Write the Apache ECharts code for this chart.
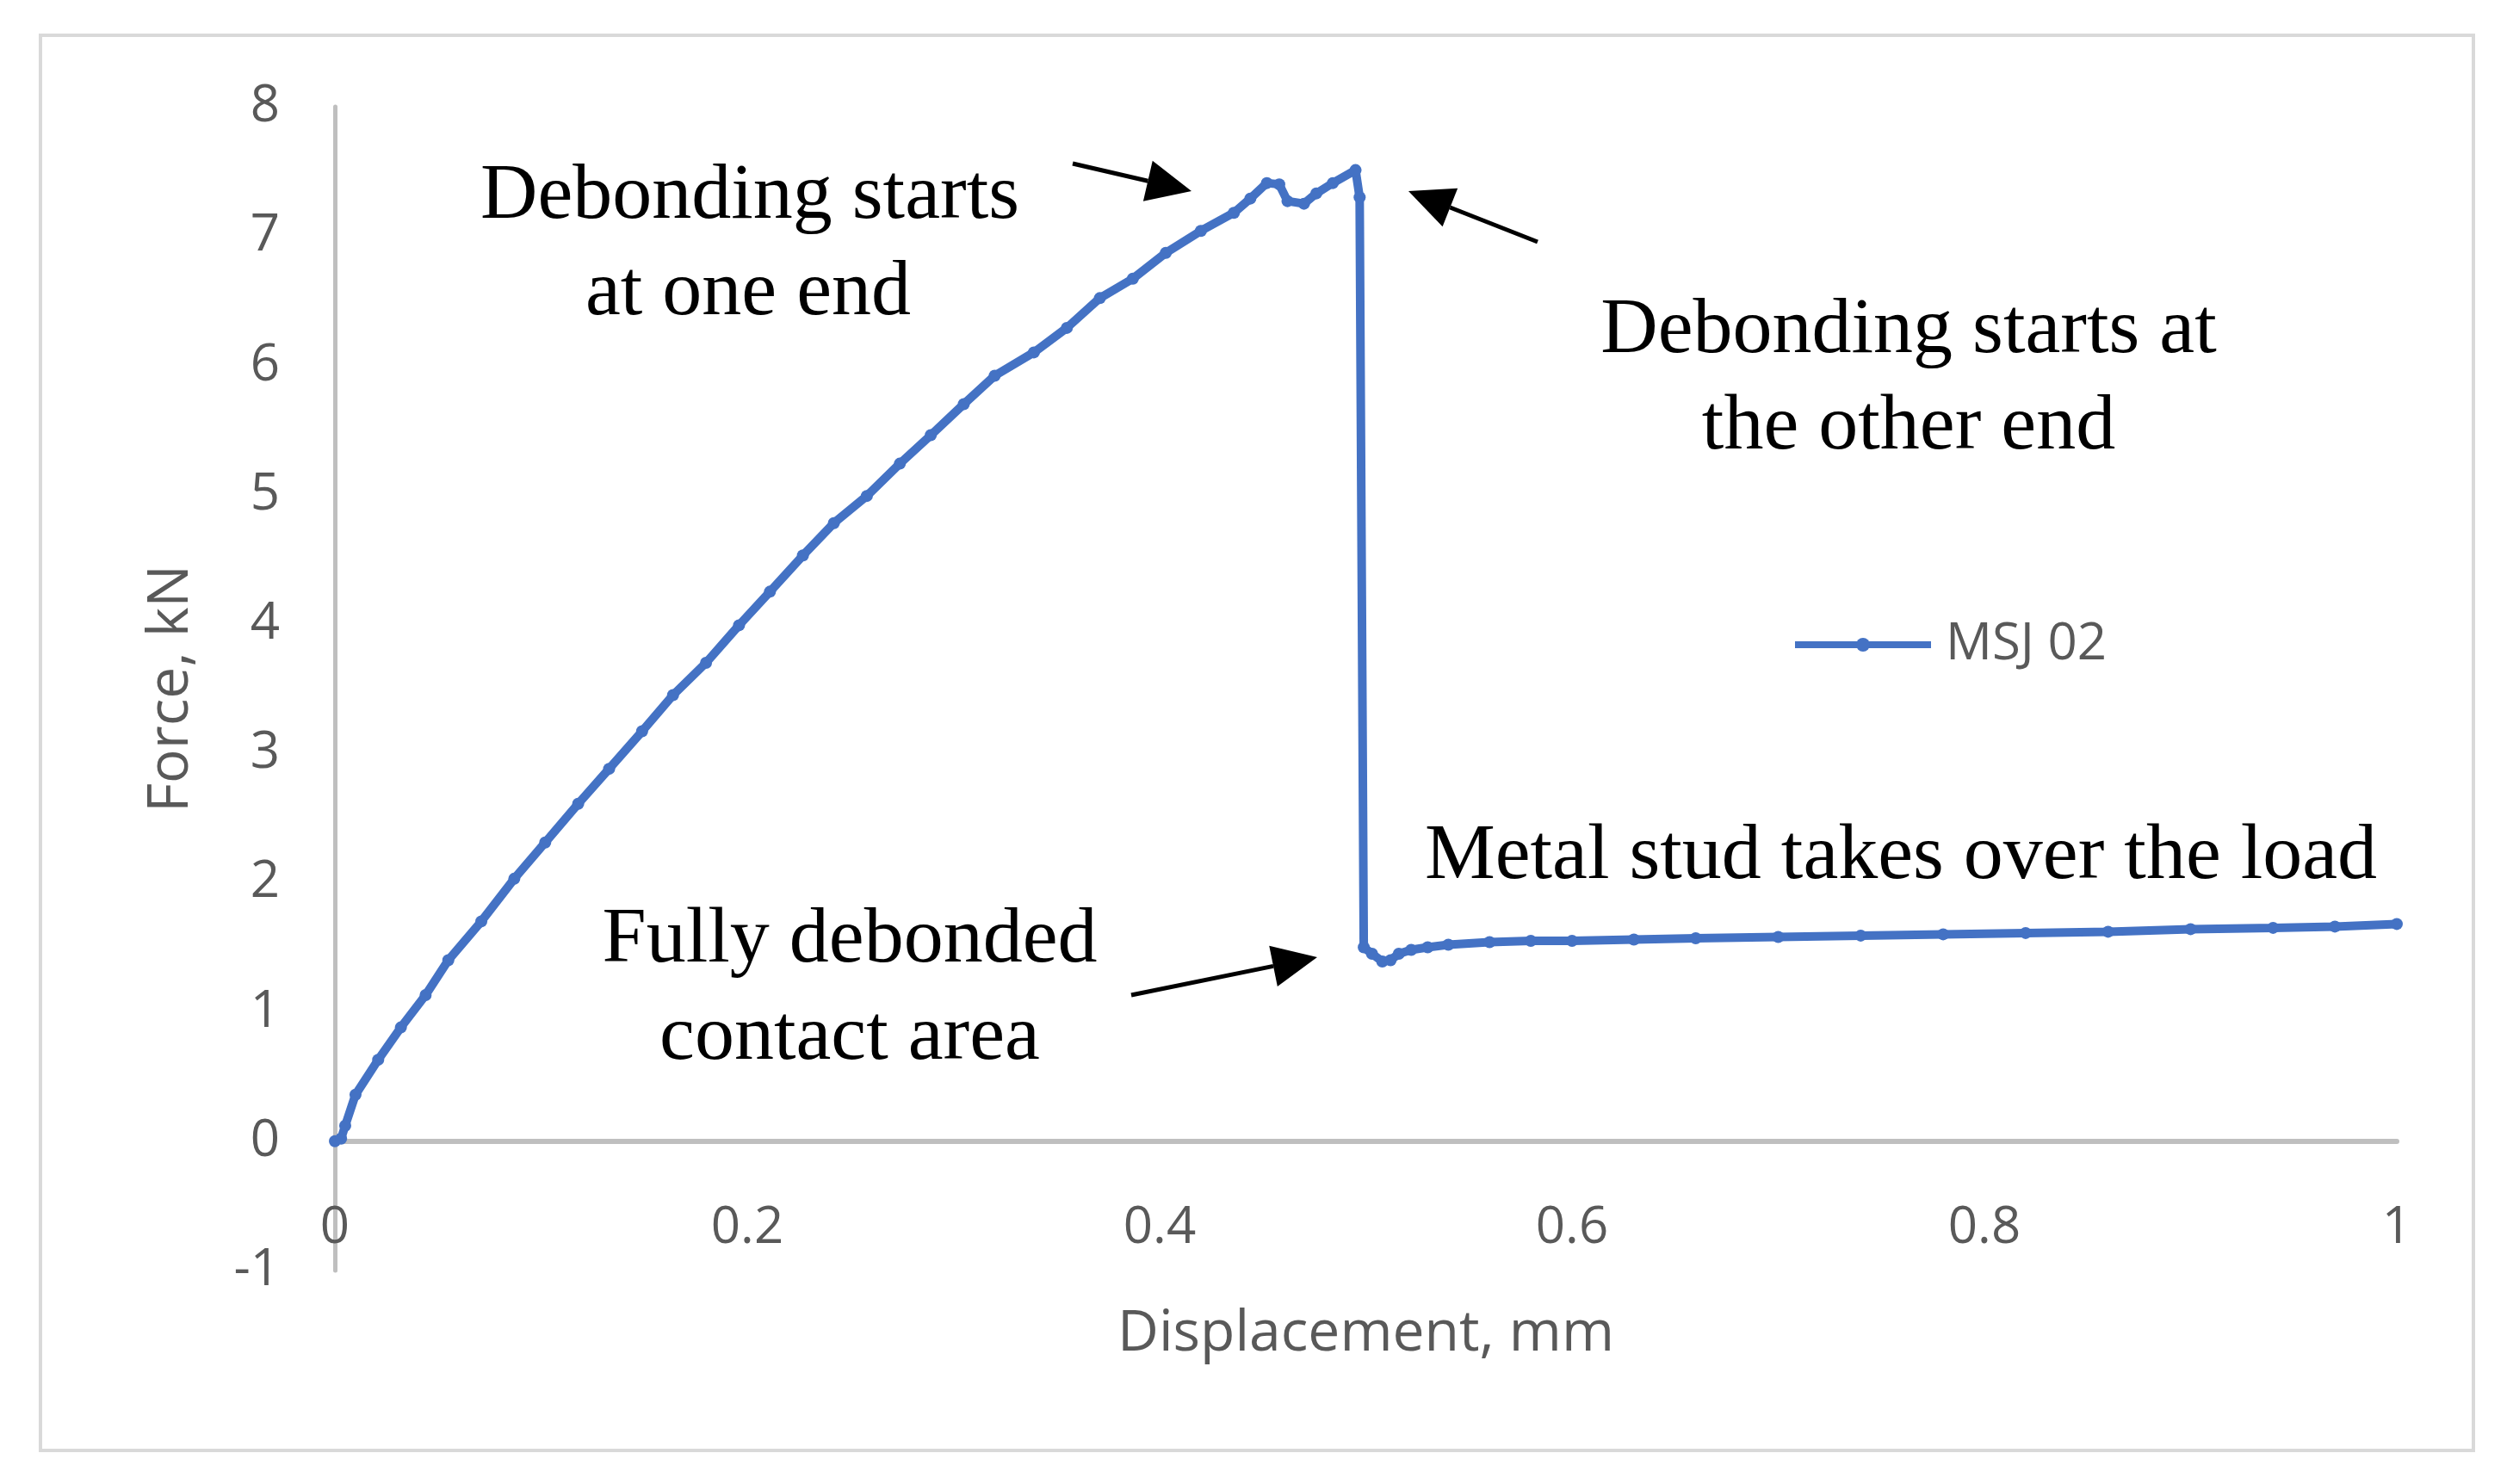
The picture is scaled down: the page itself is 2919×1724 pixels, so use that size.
<!DOCTYPE html>
<html>
<head>
<meta charset="utf-8">
<title>MSJ 02</title>
<script src="https://cdn.jsdelivr.net/npm/echarts@6.0.0/dist/echarts.min.js"></script>
<style>
  html, body { margin: 0; padding: 0; background: #fff; }
  #chart { width: 2919px; height: 1724px; }
</style>
</head>
<body>
<div id="chart"></div>
<script>
// displacement (mm) and force (kN)
var disp = [0, 0.003, 0.005, 0.010, 0.021, 0.032, 0.044, 0.055, 0.071, 0.087, 0.102,
    0.118, 0.133, 0.149, 0.164, 0.180, 0.196, 0.211, 0.227, 0.242, 0.258,
    0.274, 0.289, 0.305, 0.320, 0.339, 0.355, 0.371, 0.387, 0.403, 0.420,
    0.436, 0.444, 0.452, 0.458, 0.462, 0.470, 0.476, 0.484, 0.495, 0.497,
    0.499, 0.503, 0.508, 0.512, 0.516, 0.522, 0.530, 0.540, 0.560, 0.580,
    0.600, 0.630, 0.660, 0.700, 0.740, 0.780, 0.820, 0.860, 0.900, 0.940,
    0.970, 1.000];
var force = [0, 0.02, 0.12, 0.36, 0.63, 0.88, 1.13, 1.40, 1.70, 2.03, 2.31,
    2.61, 2.88, 3.17, 3.45, 3.70, 3.99, 4.25, 4.53, 4.78, 4.99,
    5.24, 5.46, 5.70, 5.92, 6.10, 6.29, 6.52, 6.67, 6.87, 7.04,
    7.18, 7.29, 7.41, 7.40, 7.27, 7.25, 7.33, 7.41, 7.51, 7.30,
    1.50, 1.45, 1.39, 1.40, 1.45, 1.48, 1.50, 1.52, 1.54, 1.55,
    1.55, 1.56, 1.57, 1.58, 1.59, 1.60, 1.61, 1.62, 1.64, 1.65,
    1.66, 1.68];
var seriesName = 'MSJ 02';

var xTitle = 'Displacement, mm';
var yTitle = 'Force, kN';

// annotation texts: [text, x, y] in pixels
var notes = [
    ['Debonding starts', 871, 229],
    ['at one end', 869, 341],
    ['Debonding starts at', 2217, 385],
    ['the other end', 2217, 497],
    ['Metal stud takes over the load', 2208, 996],
    ['Fully debonded', 987, 1093],
    ['contact area', 987, 1206]
];
// arrows: [x1, y1, x2 (tip), y2 (tip)]
var arrows = [
    [1246, 190, 1384, 222],
    [1786, 281, 1636, 222],
    [1314, 1156, 1530, 1112]
];

var points = [];
for (var i = 0; i < disp.length; i++) {
    points.push([disp[i], force[i]]);
}

function arrowParts(a) {
    var ang = Math.atan2(a[3] - a[1], a[2] - a[0]);
    var len = 52, half = 24;
    var bx = a[2] - len * Math.cos(ang), by = a[3] - len * Math.sin(ang);
    var nx = -Math.sin(ang) * half, ny = Math.cos(ang) * half;
    return [
        {
            type: 'line',
            shape: { x1: a[0], y1: a[1], x2: bx, y2: by },
            style: { stroke: '#000', lineWidth: 5 }
        },
        {
            type: 'polygon',
            shape: { points: [[a[2], a[3]], [bx + nx, by + ny], [bx - nx, by - ny]] },
            style: { fill: '#000' }
        }
    ];
}

var graphics = [{
    type: 'rect',
    shape: { x: 47, y: 41, width: 2826, height: 1644 },
    style: { fill: null, stroke: '#d9d9d9', lineWidth: 4 },
    silent: true
}];
notes.forEach(function (n) {
    graphics.push({
        type: 'text',
        x: n[1],
        y: n[2],
        style: {
            text: n[0],
            fontFamily: '"Liberation Serif", serif',
            fontSize: 92,
            fill: '#000',
            align: 'center',
            verticalAlign: 'middle'
        }
    });
});
arrows.forEach(function (a) {
    graphics = graphics.concat(arrowParts(a));
});

var chart = echarts.init(document.getElementById('chart'));
var option = {
    backgroundColor: '#fff',
    animation: false,
    textStyle: { fontFamily: '"Open Sans", sans-serif' },
    grid: { left: 389, right: 135, top: 124, bottom: 248 },
    legend: {
        data: [seriesName],
        left: 2076,
        top: 714,
        itemWidth: 158,
        itemHeight: 20,
        lineStyle: { width: 8, color: '#4472c4' },
        itemStyle: { color: '#4472c4' },
        textStyle: { fontSize: 60, color: '#595959', padding: [0, 0, 0, 12] }
    },
    xAxis: {
        type: 'value',
        min: 0,
        max: 1,
        interval: 0.2,
        name: xTitle,
        nameLocation: 'middle',
        nameGap: 74,
        nameTextStyle: { fontSize: 66, color: '#595959', verticalAlign: 'middle' },
        axisLine: { onZero: true, lineStyle: { color: '#bfbfbf', width: 6 } },
        axisTick: { show: false },
        splitLine: { show: false },
        axisLabel: { fontSize: 60, color: '#595959', margin: -49, verticalAlign: 'middle' }
    },
    yAxis: {
        type: 'value',
        min: -1,
        max: 8,
        interval: 1,
        name: yTitle,
        nameLocation: 'middle',
        nameRotate: 90,
        nameGap: 190,
        nameTextStyle: { fontSize: 66, color: '#595959', verticalAlign: 'middle' },
        axisLine: { show: true, onZero: false, lineStyle: { color: '#bfbfbf', width: 5 } },
        axisTick: { show: false },
        splitLine: { show: false },
        axisLabel: { fontSize: 60, color: '#595959', margin: 64 }
    },
    series: [{
        name: seriesName,
        type: 'line',
        data: points,
        symbol: 'circle',
        symbolSize: 14,
        showAllSymbol: true,
        lineStyle: { color: '#4472c4', width: 10 },
        itemStyle: { color: '#4472c4' }
    }],
    graphic: graphics
};
chart.setOption(option);
</script>
</body>
</html>
